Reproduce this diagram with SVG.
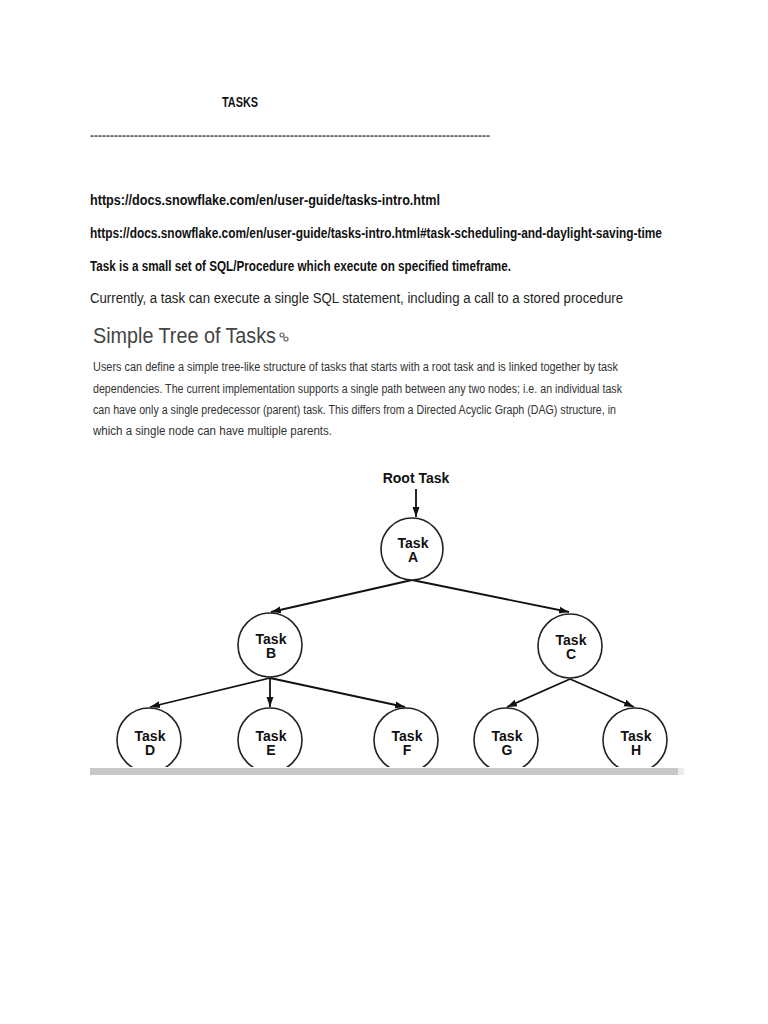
<svg xmlns="http://www.w3.org/2000/svg" width="768" height="1024" viewBox="0 0 768 1024">
<style>
.doc{font-family:"Liberation Sans",Arial,sans-serif;font-weight:bold;font-size:14px;fill:#111}
.dash{font-family:"Liberation Sans",Arial,sans-serif;font-weight:bold;font-size:14px;fill:#666}
.cur{font-family:"Liberation Sans",Arial,sans-serif;font-size:14px;fill:#222}
.title{font-family:"Liberation Sans",Arial,sans-serif;font-size:22px;fill:#444}
.para{font-family:"Liberation Sans",Arial,sans-serif;font-size:12.5px;fill:#333}
.lbl{font-family:"Liberation Sans",Arial,sans-serif;font-weight:bold;font-size:14px;fill:#111;text-anchor:middle}
.node{fill:#fff;stroke:#222;stroke-width:1.6}
.edge{stroke:#111;stroke-width:1.8;fill:none;marker-end:url(#arr)}
</style>
<defs>
<marker id="arr" viewBox="0 0 10 10" refX="10" refY="5" markerWidth="5.5" markerHeight="5.5" markerUnits="strokeWidth" orient="auto">
<path d="M0,1.5 L10,5 L0,8.5 Z" fill="#111"/>
</marker>
<clipPath id="cut"><rect x="0" y="0" width="768" height="767"/></clipPath>
</defs>
<rect width="768" height="1024" fill="#fff"/>

<text class="doc" x="222" y="107" font-size="13" textLength="36" lengthAdjust="spacingAndGlyphs">TASKS</text>
<text class="dash" x="90" y="140" textLength="400" lengthAdjust="spacingAndGlyphs">----------------------------------------------------------------------------------------------------</text>
<text class="doc" x="90" y="205" textLength="350" lengthAdjust="spacingAndGlyphs">https://docs.snowflake.com/en/user-guide/tasks-intro.html</text>
<text class="doc" x="90" y="238" textLength="572" lengthAdjust="spacingAndGlyphs">https://docs.snowflake.com/en/user-guide/tasks-intro.html#task-scheduling-and-daylight-saving-time</text>
<text class="doc" x="90" y="271" textLength="421" lengthAdjust="spacingAndGlyphs">Task is a small set of SQL/Procedure which execute on specified timeframe.</text>
<text class="cur" x="90" y="303" textLength="533" lengthAdjust="spacingAndGlyphs">Currently, a task can execute a single SQL statement, including a call to a stored procedure</text>

<text class="title" x="93" y="343" textLength="183" lengthAdjust="spacingAndGlyphs">Simple Tree of Tasks</text>
<g stroke="#666" stroke-width="1.2" fill="none">
<circle cx="282" cy="335" r="2"/>
<circle cx="286" cy="339" r="2"/>
</g>
<text class="para" x="93" y="371" textLength="525" lengthAdjust="spacingAndGlyphs">Users can define a simple tree-like structure of tasks that starts with a root task and is linked together by task</text>
<text class="para" x="93" y="393" textLength="529" lengthAdjust="spacingAndGlyphs">dependencies. The current implementation supports a single path between any two nodes; i.e. an individual task</text>
<text class="para" x="93" y="414" textLength="523" lengthAdjust="spacingAndGlyphs">can have only a single predecessor (parent) task. This differs from a Directed Acyclic Graph (DAG) structure, in</text>
<text class="para" x="93" y="435" textLength="239" lengthAdjust="spacingAndGlyphs">which a single node can have multiple parents.</text>

<text class="lbl" x="416" y="483">Root Task</text>

<g id="connectors">
<line class="edge" x1="416" y1="489" x2="416" y2="517"/>
<line class="edge" x1="412" y1="580" x2="271" y2="612"/>
<line class="edge" x1="412" y1="580" x2="569" y2="612"/>
<line class="edge" x1="270" y1="678" x2="150" y2="707"/>
<line class="edge" x1="270" y1="678" x2="270" y2="707"/>
<line class="edge" x1="270" y1="678" x2="405" y2="707"/>
<line class="edge" x1="570" y1="679" x2="507" y2="707"/>
<line class="edge" x1="570" y1="679" x2="634" y2="707"/>
</g>

<g id="nodeA"><circle class="node" cx="412" cy="549" r="31"/><text class="lbl" x="413" y="548">Task</text><text class="lbl" x="413" y="562">A</text></g>
<g id="nodeB"><circle class="node" cx="270" cy="645" r="32"/><text class="lbl" x="271" y="644">Task</text><text class="lbl" x="271" y="658">B</text></g>
<g id="nodeC"><circle class="node" cx="570" cy="646" r="32"/><text class="lbl" x="571" y="645">Task</text><text class="lbl" x="571" y="659">C</text></g>
<g clip-path="url(#cut)">
<g id="nodeD"><circle class="node" cx="149" cy="740" r="32"/><text class="lbl" x="150" y="741">Task</text><text class="lbl" x="150" y="755">D</text></g>
<g id="nodeE"><circle class="node" cx="270" cy="740" r="32"/><text class="lbl" x="271" y="741">Task</text><text class="lbl" x="271" y="755">E</text></g>
<g id="nodeF"><circle class="node" cx="406" cy="740" r="32"/><text class="lbl" x="407" y="741">Task</text><text class="lbl" x="407" y="755">F</text></g>
<g id="nodeG"><circle class="node" cx="506" cy="740" r="32"/><text class="lbl" x="507" y="741">Task</text><text class="lbl" x="507" y="755">G</text></g>
<g id="nodeH"><circle class="node" cx="635" cy="740" r="32"/><text class="lbl" x="636" y="741">Task</text><text class="lbl" x="636" y="755">H</text></g>
</g>
<rect x="90" y="768" width="588" height="7" fill="#c8c8c8"/>
<rect x="678" y="768" width="6" height="7" fill="#ececec"/>
</svg>
